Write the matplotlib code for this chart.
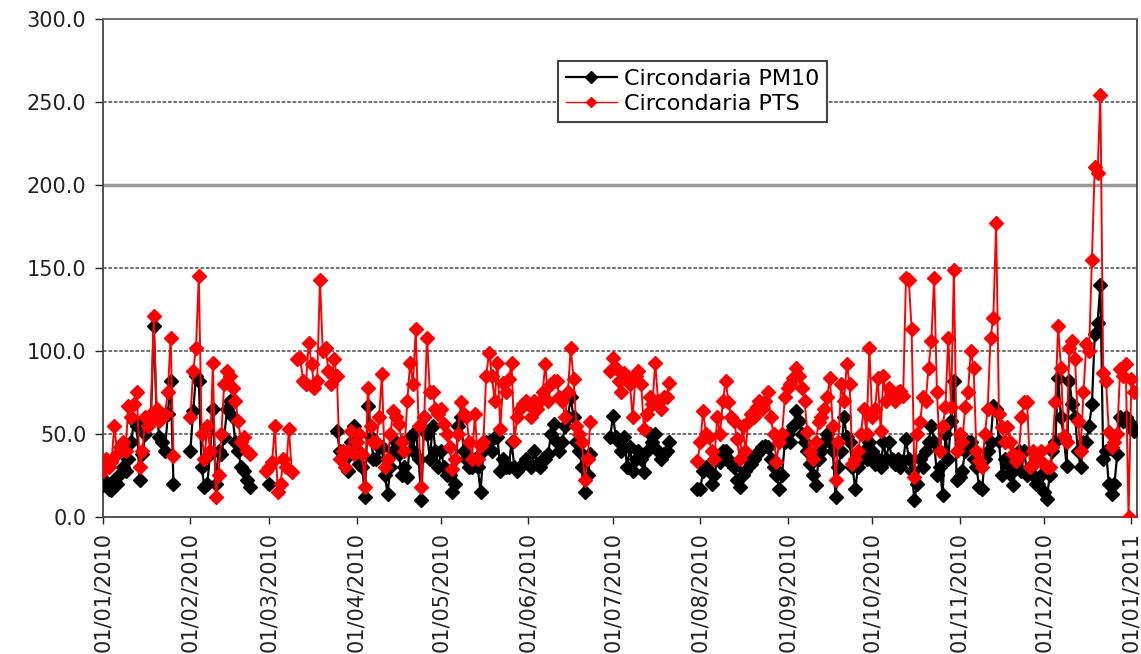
import numpy as np
import pandas as pd
import matplotlib
matplotlib.use("Agg")
from matplotlib import pyplot as plt
import matplotlib.dates as mdates
from matplotlib.ticker import MultipleLocator, FormatStrFormatter

nan = np.nan

# daily values, one list per month (nan = no data)
pm10_jan = [19, 21, 17, 16, 22, 20, 26, 30, 28, 35, 45, 58, 55, 22, 38, 50, 58, 60, 115, 62,
            48, 45, 40, 62, 82, 20, nan, nan, nan, nan, nan]
pts_jan = [28, 35, 30, 33, 55, 38, 42, 45, 40, 67, 60, 68, 75, 30, 40, 60, 55, 62, 121, 65,
           58, 60, 62, 75, 108, 37, nan, nan, nan, nan, nan]

pm10_feb = [40, 64, 85, 82, 30, 18, 20, 38, 65, 20, 40, 38, 48, 65, 70, 60, 45, 40, 30, 28,
            22, 18, nan, nan, nan, nan, nan, nan]
pts_feb = [60, 88, 102, 145, 50, 35, 55, 40, 93, 12, 25, 50, 80, 88, 85, 78, 70, 58, 45, 48,
           40, 38, nan, nan, nan, nan, nan, 28]

pm10_mar = [20] + [nan] * 23 + [52, 40, 38, 35, 28, 45, 55]
pts_mar = [30, 33, 55, 15, 20, 35, 30, 53, 27, nan, 95, 96, 82, 80, 105, 92, 78, 82, 143, 100,
           102, 88, 80, 95, 85, 35, 40, 30, 40, 52, 38]

pm10_apr = [40, 32, 30, 12, 67, 48, 35, 35, 42, 42, 25, 14, 30, 40, 45, 38, 25, 30, 24, 48,
            40, 52, 35, 10, 60, 50, 35, 55, 40, 30]
pts_apr = [45, 50, 38, 18, 78, 55, 45, 45, 60, 86, 30, 35, 50, 64, 60, 56, 45, 40, 70, 93,
           80, 113, 55, 18, 60, 108, 75, 75, 65, 62]

pm10_may = [40, 30, 25, 25, 15, 20, 55, 60, 40, 35, 30, 30, 35, 30, 15, 40, 45, 45, 40, 48,
            48, 28, 35, 30, 30, 45, 30, 28, 30, 32, 35]
pts_may = [65, 56, 50, 42, 29, 35, 50, 69, 62, 60, 45, 35, 62, 35, 43, 45, 85, 99, 85, 70,
           93, 53, 81, 75, 83, 93, 46, 60, 65, 68, 70]

pm10_jun = [33, 30, 40, 32, 30, 35, 35, 38, 50, 56, 45, 40, 45, 55, 60, 72, 60, 45, 40, 30,
            15, 25, 38, nan, nan, nan, nan, nan, nan, 48]
pts_jun = [68, 60, 70, 65, 70, 75, 92, 70, 80, 82, 82, 72, 70, 60, 75, 102, 83, 55, 50, 45,
           22, 35, 57, nan, nan, nan, nan, nan, nan, 88]

pm10_jul = [61, 48, 45, 40, 48, 30, 42, 28, 35, 40, 35, 27, 40, 50, 45, 50, 40, 35, 38, 40,
            45, nan, nan, nan, nan, nan, nan, nan, nan, nan, 17]
pts_jul = [96, 90, 82, 75, 87, 85, 80, 60, 85, 88, 80, 53, 62, 72, 68, 93, 70, 65, 72, 72,
           81, nan, nan, nan, nan, nan, nan, nan, nan, nan, 34]

pm10_aug = [17, 28, 30, 28, 20, 25, 35, 33, 40, 40, 35, 32, 30, 22, 18, 25, 28, 35, 32, 35,
            38, 40, 42, 43, 42, 35, 30, 25, 17, 25, 45]
pts_aug = [45, 64, 50, 48, 40, 35, 60, 50, 70, 82, 69, 60, 58, 47, 35, 55, 40, 57, 62, 60,
           66, 70, 65, 70, 75, 60, 50, 33, 45, 50, 72]

pm10_sep = [50, 45, 55, 64, 58, 50, 45, 40, 32, 25, 19, 35, 40, 45, 50, 45, 40, 12, 30, 40,
            60, 48, 45, 30, 17, 30, 35, 40, 35, 45]
pts_sep = [78, 80, 84, 90, 85, 78, 70, 51, 39, 35, 45, 57, 60, 65, 72, 84, 55, 22, 45, 80,
           70, 92, 80, 32, 35, 40, 50, 65, 50, 102]

pm10_oct = [40, 32, 35, 30, 45, 35, 45, 35, 32, 35, 30, 34, 47, 35, 28, 10, 20, 35, 30, 40,
            45, 55, 45, 25, 30, 13, 50, 35, 58, 82, 22]
pts_oct = [60, 65, 84, 52, 85, 70, 78, 72, 70, 75, 76, 73, 144, 143, 113, 24, 50, 57, 72, 70,
           90, 106, 144, 75, 40, 55, 66, 108, 66, 149, 40]

pm10_nov = [24, 28, 40, 45, 45, 35, 30, 18, 17, 35, 40, 45, 67, 65, 46, 25, 35, 32, 26, 19,
            30, 40, 28, 40, 25, 30, 25, 20, 20, 25]
pts_nov = [50, 45, 66, 75, 100, 90, 40, 34, 30, 50, 65, 108, 120, 177, 62, 54, 45, 54, 45, 38,
           34, 37, 60, 69, 69, 30, 40, 33, 35, 40]

pm10_dec = [15, 11, 25, 40, 45, 84, 60, 48, 31, 82, 68, 60, 40, 30, 45, 45, 55, 68, 110, 117,
            140, 35, 40, 20, 14, 20, 38, 60, 58, 60, 57]
pts_dec = [32, 30, 30, 42, 69, 115, 90, 49, 45, 102, 106, 95, 58, 40, 75, 104, 100, 155, 211, 207,
           254, 87, 82, 51, 42, 45, 50, 89, 85, 92, 0]

pm10_jan11 = [55, 52]
pts_jan11 = [83, 75]

pm10 = (pm10_jan + pm10_feb + pm10_mar + pm10_apr + pm10_may + pm10_jun + pm10_jul
        + pm10_aug + pm10_sep + pm10_oct + pm10_nov + pm10_dec + pm10_jan11)
pts = (pts_jan + pts_feb + pts_mar + pts_apr + pts_may + pts_jun + pts_jul
       + pts_aug + pts_sep + pts_oct + pts_nov + pts_dec + pts_jan11)
dates = pd.date_range("2010-01-01", periods=len(pm10), freq="D")

plt.rcParams['font.family'] = ['DejaVu Sans']

fig = plt.figure(figsize=(11.41, 6.54), dpi=100)
ax = fig.add_axes([0.0903, 0.2095, 0.9062, 0.7615])

# horizontal gridlines
for v in [50, 100, 150, 250]:
    ax.axhline(v, color='#666666', lw=1.3, ls=(0, (2, 1)), zorder=0)
ax.axhline(200, color='#999999', lw=2.5, zorder=0)

ax.plot(dates, pm10, color='black', lw=1.6, marker='D', ms=7, mec='black',
        label='Circondaria PM10', zorder=3)
ax.plot(dates, pts, color='#ff0000', lw=1.4, marker='D', ms=7, mec='#ff0000',
        label='Circondaria PTS', zorder=4)

ax.set_ylim(0, 300)
ax.set_xlim(pd.Timestamp("2010-01-01"), pd.Timestamp("2010-01-01") + pd.Timedelta(days=367))
ax.yaxis.set_major_locator(MultipleLocator(50))
ax.yaxis.set_major_formatter(FormatStrFormatter('%.1f'))
ax.xaxis.set_major_locator(mdates.MonthLocator())
ax.xaxis.set_major_formatter(mdates.DateFormatter('%d/%m/%Y'))

ax.tick_params(axis='y', labelsize=15, length=6, width=1, colors='#222222', pad=6)
ax.tick_params(axis='x', labelsize=15, length=5, width=1, colors='#222222', pad=6,
               labelrotation=90)
for s in ['left', 'bottom', 'right']:
    ax.spines[s].set_color('#444444')
    ax.spines[s].set_linewidth(1.3)
ax.spines['top'].set_color('#666666')
ax.spines['top'].set_linestyle((0, (2, 1)))
ax.spines['top'].set_linewidth(1.3)

leg = ax.legend(loc='upper left', bbox_to_anchor=(0.44, 0.916), fontsize=16,
                fancybox=False, framealpha=1, edgecolor='#444444', borderpad=0.35,
                handlelength=2.3, handletextpad=0.3, labelspacing=0.25, borderaxespad=0)
leg.get_frame().set_linewidth(1.5)
# legend keys as in the reference: black diamond, thin red line with small marker
leg.get_lines()[0].set_markersize(6)
leg.get_lines()[1].set_markersize(5)
leg.get_lines()[1].set_linewidth(1.0)

fig.savefig('out.png', dpi=100)
